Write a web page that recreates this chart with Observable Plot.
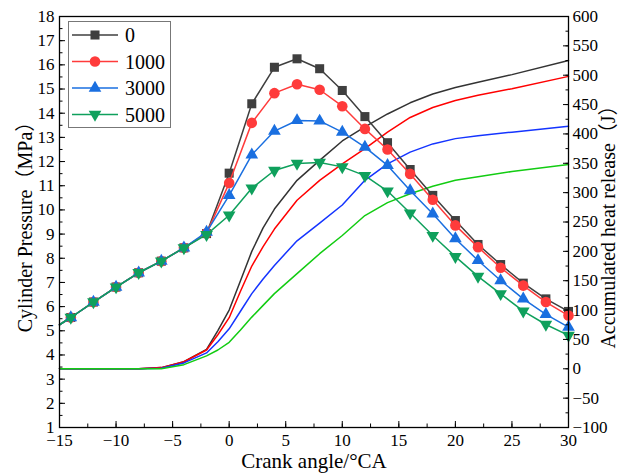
<!DOCTYPE html>
<html><head><meta charset="utf-8">
<script src="https://cdn.jsdelivr.net/npm/d3@7"></script>
<script src="https://cdn.jsdelivr.net/npm/@observablehq/plot@0.6"></script>
<style>
body{margin:0;background:#fff;}
#wrap{position:relative;width:618px;height:473px;}
#legend{position:absolute;left:68px;top:21px;width:103px;height:107px;border:1px solid #777;background:#fff;box-sizing:border-box;}
</style></head><body><div id="wrap"></div>
<script>
// ---- data ----
const seriesNames = ["0", "1000", "3000", "5000"];
const pressureAngles = [-15, -14, -12, -10, -8, -6, -4, -2, 0, 2, 4, 6, 8, 10, 12, 14, 16, 18, 20, 22, 24, 26, 28, 30];
const pressure0    = [5.25, 5.55, 6.19, 6.81, 7.40, 7.88, 8.43, 9.02, 11.52, 14.39, 15.90, 16.25, 15.84, 14.94, 13.86, 12.78, 11.67, 10.60, 9.56, 8.57, 7.74, 6.97, 6.32, 5.80];
const pressure1000 = [5.25, 5.55, 6.19, 6.81, 7.40, 7.88, 8.43, 9.03, 11.11, 13.60, 14.83, 15.20, 14.97, 14.29, 13.35, 12.50, 11.49, 10.42, 9.36, 8.46, 7.61, 6.87, 6.19, 5.63];
const pressure3000 = [5.25, 5.55, 6.19, 6.81, 7.40, 7.88, 8.43, 9.08, 10.60, 12.28, 13.26, 13.70, 13.68, 13.22, 12.60, 11.84, 10.80, 9.84, 8.81, 7.91, 7.08, 6.32, 5.68, 5.15];
const pressure5000 = [5.25, 5.55, 6.19, 6.81, 7.40, 7.88, 8.43, 8.98, 9.78, 10.90, 11.63, 11.92, 11.96, 11.78, 11.42, 10.78, 9.87, 8.94, 8.07, 7.25, 6.53, 5.81, 5.26, 4.81];

const heatAngles = [-15, -8, -6, -4, -2, -1, 0, 1, 2, 3, 4, 6, 8, 10, 12, 14, 16, 18, 20, 22, 25, 30];
const heat0    = [0, 0, 2, 12, 33, 65, 100, 150, 200, 240, 272, 321, 355, 388, 412, 434, 453, 468, 479, 488, 501, 525];
const heat1000 = [0, 0, 2, 12, 32, 58, 87, 132, 175, 208, 238, 287, 321, 349, 375, 403, 428, 445, 457, 466, 477, 498];
const heat3000 = [0, 0, 1, 10, 27, 46, 68, 98, 128, 153, 176, 218, 248, 279, 321, 349, 369, 383, 392, 397, 403, 413];
const heat5000 = [0, 0, 0, 7, 22, 32, 45, 66, 88, 108, 128, 162, 196, 227, 261, 283, 298, 311, 321, 327, 336, 348];

const xTicks = [-15, -10, -5, 0, 5, 10, 15, 20, 25, 30];
const pTicks = d3.range(1, 19, 1);
const hTicks = d3.range(-100, 601, 50);

const xTitle = "Crank angle/°CA";
const yTitle = "Cylinder Pressure（MPa）";
const y2Title = "Accumulated heat release（J）";

// ---- styles ----
const FONT = "'Liberation Serif', 'Times New Roman', Times, 'DejaVu Serif', 'Noto Sans CJK SC', serif";
const pressureColors = ["#3f3f3f", "#ff3b3b", "#1a6fe0", "#0fa05c"];
const heatColors = ["#333333", "#ff0000", "#1434ff", "#12cc12"];
const downTriangle = {
  draw(context, size) {
    const y = -Math.sqrt(size / (Math.sqrt(3) * 3));
    context.moveTo(0, -y * 2);
    context.lineTo(-Math.sqrt(3) * y, y);
    context.lineTo(Math.sqrt(3) * y, y);
    context.closePath();
  }
};
const symbols = [d3.symbolSquare, d3.symbolCircle, d3.symbolTriangle, downTriangle];
const radii = [5.1, 5.3, 4.7, 4.7];

// heat release mapped onto the pressure axis (right axis -100..600 <-> 1..18)
const toP = h => 1 + (h + 100) * 17 / 700;
const toH = p => Math.round((p - 1) * 700 / 17 - 100);
const fmt = v => v < 0 ? "\u2212" + Math.abs(v) : String(v);

const pressureSeries = [pressure0, pressure1000, pressure3000, pressure5000];
const heatSeries = [heat0, heat1000, heat3000, heat5000];

const marks = [];
heatSeries.forEach((vals, i) => {
  const data = heatAngles.map((a, j) => ({angle: a, p: toP(vals[j])}));
  marks.push(Plot.line(data, {x: "angle", y: "p", stroke: heatColors[i], strokeWidth: 1.5}));
});
pressureSeries.forEach((vals, i) => {
  const data = pressureAngles.map((a, j) => ({angle: a, p: vals[j]}));
  marks.push(Plot.line(data, {x: "angle", y: "p", stroke: pressureColors[i], strokeWidth: 1.5}));
  marks.push(Plot.dot(data.filter(d => d.angle % 2 === 0), {x: "angle", y: "p", symbol: symbols[i], r: radii[i], fill: pressureColors[i], stroke: "none"}));
});

const font = {fontSize: 17, fontFamily: FONT};
marks.push(
  Plot.frame({stroke: "black", strokeWidth: 1.3}),
  Plot.axisX(xTicks, {anchor: "bottom", tickSize: -6, tickPadding: 12, label: null, ...font}),
  Plot.axisX(d3.range(-15, 30.01, 2.5), {anchor: "bottom", tickSize: -3.5, tickFormat: () => "", label: null}),
  Plot.axisY(pTicks, {anchor: "left", tickSize: -6, tickPadding: 11, label: null, ...font}),
  Plot.axisY(d3.range(1, 18.01, 0.5), {anchor: "left", tickSize: -3.5, tickFormat: () => "", label: null}),
  Plot.axisY(hTicks.map(toP), {anchor: "right", tickSize: -6, tickPadding: 10, tickFormat: p => fmt(toH(p)), label: null, ...font}),
  Plot.axisY(d3.range(-100, 601, 25).map(toP), {anchor: "right", tickSize: -3.5, tickFormat: () => "", label: null}),
  Plot.text([xTitle], {text: d => d, frameAnchor: "bottom", dy: 34, fontSize: 21, fontFamily: FONT, lineAnchor: "middle", textAnchor: "middle"}),
  Plot.text([yTitle], {text: d => d, frameAnchor: "left", dx: -34, rotate: -90, fontSize: 20, fontFamily: FONT, lineAnchor: "middle", textAnchor: "middle"}),
  Plot.text([y2Title], {text: d => d, frameAnchor: "right", dx: 40, rotate: -90, fontSize: 20, fontFamily: FONT, lineAnchor: "middle", textAnchor: "middle"})
);

const chart = Plot.plot({
  width: 618, height: 473,
  marginLeft: 59, marginRight: 50, marginTop: 16, marginBottom: 46,
  style: {fontFamily: FONT, color: "black", background: "white", overflow: "visible"},
  x: {domain: [-15, 30], label: null},
  y: {domain: [1, 18], label: null},
  marks
});
const wrap = document.getElementById("wrap");
wrap.appendChild(chart);

// ---- legend (overlay inside the plot frame) ----
const legend = document.createElement("div");
legend.id = "legend";
wrap.appendChild(legend);
const lsvg = d3.select(legend).append("svg").attr("width", 101).attr("height", 105)
  .style("font-family", FONT).style("font-size", "20px");
seriesNames.forEach((name, i) => {
  const g = lsvg.append("g").attr("transform", `translate(0,${13 + i * 26.5})`);
  g.append("line").attr("x1", 3).attr("x2", 49).attr("stroke", pressureColors[i]).attr("stroke-width", 1.5);
  g.append("path").attr("transform", "translate(26,0)")
    .attr("d", d3.symbol(symbols[i], Math.PI * radii[i] * radii[i])()).attr("fill", pressureColors[i]);
  g.append("text").attr("x", 56).attr("dy", "0.35em").text(name);
});
</script>
</body></html>
